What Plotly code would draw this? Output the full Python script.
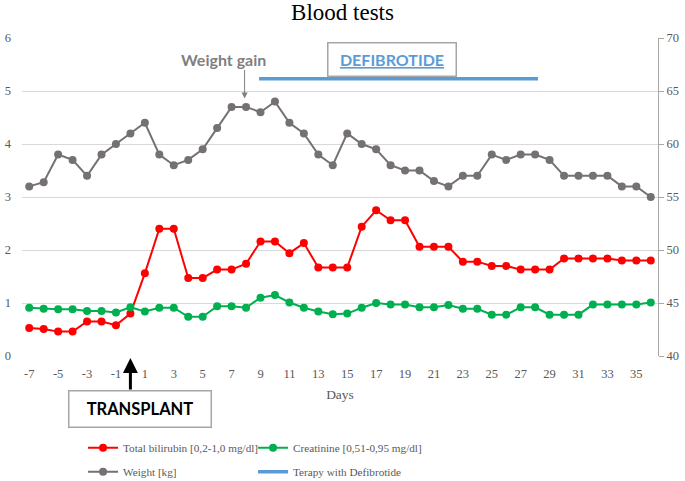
import plotly.graph_objects as go

# days relative to transplant
days = list(range(-7, 37))

bilirubin = [0.53, 0.51, 0.46, 0.46, 0.65, 0.65, 0.58, 0.80, 1.56, 2.40, 2.40,
             1.47, 1.47, 1.63, 1.63, 1.74, 2.16, 2.16, 1.94, 2.13, 1.67, 1.67,
             1.67, 2.44, 2.75, 2.56, 2.56, 2.06, 2.06, 2.06, 1.78, 1.78, 1.70,
             1.70, 1.63, 1.63, 1.63, 1.84, 1.84, 1.84, 1.84, 1.80, 1.80, 1.80]

creatinine = [0.91, 0.89, 0.88, 0.88, 0.85, 0.85, 0.82, 0.92, 0.84, 0.91, 0.91,
              0.74, 0.74, 0.94, 0.94, 0.91, 1.10, 1.15, 1.01, 0.91, 0.84, 0.79,
              0.80, 0.91, 1.00, 0.97, 0.97, 0.92, 0.92, 0.96, 0.89, 0.89, 0.78,
              0.78, 0.92, 0.92, 0.78, 0.78, 0.78, 0.97, 0.97, 0.97, 0.97, 1.01]

weight = [56.0, 56.4, 59.0, 58.5, 57.0, 59.0, 60.0, 61.0, 62.0, 59.0, 58.0,
          58.5, 59.5, 61.5, 63.5, 63.5, 63.0, 64.0, 62.0, 61.0, 59.0, 58.0,
          61.0, 60.0, 59.5, 58.0, 57.5, 57.5, 56.5, 56.0, 57.0, 57.0, 59.0,
          58.5, 59.0, 59.0, 58.5, 57.0, 57.0, 57.0, 57.0, 56.0, 56.0, 55.0]

# therapy period (start/end day) and its drawing level on the left axis
defib_days = [8.9, 28.2]
defib_level = [5.23, 5.23]

x_ticks = list(range(-7, 36, 2))
x_tick_labels = [str(d) for d in x_ticks]  # plain hyphen, not unicode minus

GRAY_TXT = "#595959"
SERIF = "Liberation Serif"
SANS = "Lato"

fig = go.Figure()

fig.add_trace(go.Scatter(
    x=days, y=bilirubin, name="Total bilirubin [0,2-1,0 mg/dl]",
    mode="lines+markers", line=dict(color="#ff0000", width=2),
    marker=dict(size=8, color="#ff0000"), legend="legend"))
fig.add_trace(go.Scatter(
    x=days, y=creatinine, name="Creatinine [0,51-0,95 mg/dl]",
    mode="lines+markers", line=dict(color="#00b050", width=2),
    marker=dict(size=8, color="#00b050"), legend="legend"))
fig.add_trace(go.Scatter(
    x=days, y=weight, name="Weight [kg]", yaxis="y2",
    mode="lines+markers", line=dict(color="#767171", width=2),
    marker=dict(size=8, color="#767171"), legend="legend2"))
fig.add_trace(go.Scatter(
    x=defib_days, y=defib_level, name="Terapy with Defibrotide",
    mode="lines", line=dict(color="#5b9bd5", width=3.5), legend="legend2"))

leg_font = dict(family=SERIF, size=11.2, color=GRAY_TXT)
leg_common = dict(orientation="h", x=0.096, xanchor="left", yref="container",
                  yanchor="middle", entrywidth=125, entrywidthmode="pixels",
                  itemwidth=30, font=leg_font, bgcolor="rgba(0,0,0,0)")

fig.update_layout(
    width=685, height=481,
    margin=dict(l=22, r=27, t=38, b=125),
    paper_bgcolor="white", plot_bgcolor="white",
    title=dict(text="Blood tests", x=0.5, xanchor="center", y=0.975, yanchor="middle",
               font=dict(family=SERIF, size=23, color="black")),
    xaxis=dict(range=[-7.5, 36.5], tickvals=x_ticks, ticktext=x_tick_labels,
               showgrid=False, zeroline=False, showline=False, ticks="", automargin=False,
               ticklabelstandoff=8,
               tickfont=dict(family=SERIF, size=12.5, color=GRAY_TXT),
               title=dict(text="Days", font=dict(family=SERIF, size=13.5, color=GRAY_TXT),
                          standoff=10)),
    yaxis=dict(range=[0, 6], dtick=1, showgrid=True, gridcolor="#d9d9d9", gridwidth=1,
               zeroline=False, showline=False, ticks="", automargin=False,
               ticklabelstandoff=10,
               tickfont=dict(family=SERIF, size=12.5, color=GRAY_TXT)),
    yaxis2=dict(range=[40, 70], dtick=5, overlaying="y", side="right", showgrid=False,
                zeroline=False, showline=True, linecolor="#a6a6a6", linewidth=1,
                ticks="outside", ticklen=5, tickcolor="#a6a6a6", automargin=False,
                tickfont=dict(family=SERIF, size=12.5, color=GRAY_TXT)),
    legend=dict(y=0.069, **leg_common),
    legend2=dict(y=0.019, **leg_common),
    showlegend=True,
)

# "Weight gain" label and its arrow
fig.add_annotation(x=6.45, y=5.6, text="<b>Weight gain</b>", showarrow=False,
                   font=dict(family=SANS, size=16, color="#7f7f7f"))
fig.add_annotation(x=7.9, y=4.86, ax=0, ay=-30, text="", showarrow=True,
                   arrowhead=2, arrowsize=1.2, arrowwidth=1, arrowcolor="#7f7f7f")

# DEFIBROTIDE box
fig.add_annotation(x=18.1, y=5.6, text="<b><u>DEFIBROTIDE</u></b>", showarrow=False,
                   font=dict(family=SANS, size=16, color="#5b9bd5"),
                   width=125, height=30, bordercolor="#a6a6a6", borderwidth=1.5,
                   bgcolor="white")

# transplant arrow and box
fig.add_annotation(x=0, y=0, yshift=-2, ax=0, ay=33, text="", showarrow=True,
                   arrowhead=2, arrowsize=1, arrowwidth=3, arrowcolor="black")
fig.add_annotation(x=0.64, y=-0.168, yref="paper", yanchor="middle",
                   text="<b>TRANSPLANT</b>", showarrow=False,
                   font=dict(family=SANS, size=16.5, color="black"),
                   width=139, height=33, bordercolor="#a6a6a6", borderwidth=1.5,
                   bgcolor="white")

# drop the browser's default body margin so the figure sits at the page corner
fig.write_html("out.html", config={"displayModeBar": False},
               post_script="document.body.style.margin = '0px';")
